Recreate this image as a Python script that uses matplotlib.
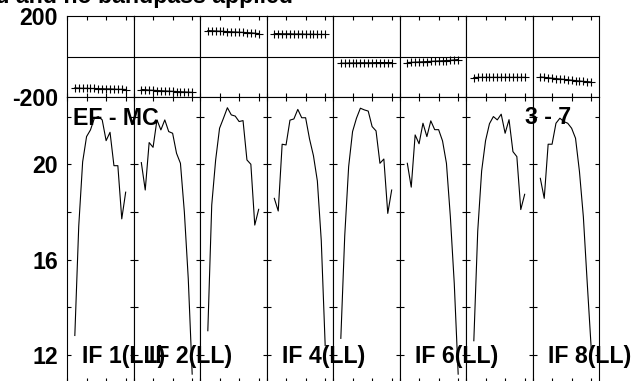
from matplotlib import pyplot as plt
import numpy as np

plt.rcParams['font.family'] = ['Liberation Sans', 'DejaVu Sans']
plt.rcParams['font.weight'] = 'bold'

# channels in every IF
chans = np.arange(2, 16)

# phase (degrees) per IF
phase = [
    [-155, -156, -157, -157, -158, -158, -159, -159, -160, -160, -161, -162, -162, -163],
    [-163, -164, -166, -167, -168, -169, -170, -171, -172, -173, -174, -175, -176, -177],
    [128, 127, 126, 125, 124, 123, 122, 121, 120, 119, 118, 117, 115, 113],
    [113, 113, 112, 112, 112, 111, 111, 111, 110, 110, 110, 109, 109, 109],
    [-33, -33, -32, -32, -32, -31, -31, -31, -31, -30, -30, -30, -30, -30],
    [-30, -29, -28, -27, -26, -25, -24, -23, -22, -21, -20, -19, -17, -15],
    [-104, -103, -103, -103, -103, -103, -103, -103, -103, -103, -103, -103, -103, -103],
    [-101, -103, -105, -107, -109, -111, -113, -115, -117, -119, -121, -123, -124, -126],
]

# amplitude per IF
amp = [
    [12.82, 17.4, 20.1, 21.16, 21.44, 21.93, 22.0, 21.86, 20.99, 21.34, 19.94, 19.94, 17.71, 18.83],
    [20.07, 18.92, 20.91, 20.71, 21.86, 21.44, 21.86, 21.37, 21.3, 20.46, 20.04, 18.0, 15.2, 11.2],
    [13.02, 18.29, 20.18, 21.51, 21.93, 22.37, 22.07, 22.02, 21.79, 21.83, 20.18, 20.0, 17.45, 18.11],
    [18.57, 18.04, 20.84, 20.81, 21.85, 21.9, 22.3, 21.95, 21.95, 21.06, 20.36, 19.3, 16.8, 12.4],
    [12.7, 17.0, 19.9, 21.37, 21.93, 22.35, 22.28, 22.23, 21.58, 21.4, 20.04, 20.22, 17.94, 18.92],
    [20.04, 19.04, 21.23, 20.86, 21.72, 21.16, 21.82, 21.45, 21.45, 20.98, 20.04, 17.8, 15.0, 11.2],
    [12.6, 17.2, 19.72, 20.99, 21.7, 22.0, 21.86, 22.1, 21.3, 21.87, 20.53, 20.32, 18.1, 18.74],
    [19.41, 18.57, 20.84, 20.84, 21.72, 21.93, 21.79, 21.72, 21.51, 21.09, 19.7, 17.8, 15.0, 12.3],
]

if_labels = ['IF 1(LL)', 'IF 2(LL)', '', 'IF 4(LL)', '', 'IF 6(LL)', '', 'IF 8(LL)']
amp_ticks = [12, 14, 16, 18, 20, 22]
amp_ticklabels = ['12', '', '16', '', '20', '']

W, H = 636, 381
fs = 16.7

def box(x0, y0, x1, y1):
    return [x0 / W, 1 - y1 / H, (x1 - x0) / W, (y1 - y0) / H]

fig = plt.figure(figsize=(W / 100, H / 100), dpi=100)

x_left, pw = 67, 66.5
for i in range(8):
    xa = x_left + i * pw
    axp = fig.add_axes(box(xa, 16, xa + pw, 97))
    axa = fig.add_axes(box(xa, 97, xa + pw, 382))

    axp.plot(chans, phase[i], color='black', linewidth=0.8,
             marker='+', markersize=6, markeredgewidth=0.8)
    axp.axhline(0, color='black', linewidth=0.8)
    axp.set_ylim(-200, 200)

    axa.plot(chans, amp[i], color='black', linewidth=0.8)
    axa.set_ylim(10.87, 22.82)

    for ax in (axp, axa):
        ax.set_xlim(0, 17)
        ax.set_xticks([0, 5, 10, 15])
        ax.set_xticklabels([])
        for s in ax.spines.values():
            s.set_linewidth(0.8)
        ax.tick_params(direction='in', length=3, width=0.8,
                       top=True, bottom=True, left=True, right=True,
                       labelbottom=False, labelsize=fs, pad=6.5)

    axp.set_yticks([-200, 200])
    axp.tick_params(axis='y', length=0)
    axa.set_yticks(amp_ticks)
    if i == 0:
        axp.set_yticklabels(['-200', '200'], fontweight='bold')
        axa.set_yticklabels(amp_ticklabels, fontweight='bold')
    else:
        axp.set_yticklabels([])
        axa.set_yticklabels([])

    # IF name, drawn on the figure so the next panel does not hide it
    if if_labels[i]:
        fig.text((xa + 15.5) / W, 1 - 363 / H, if_labels[i],
                 fontsize=fs, fontweight='bold', ha='left', va='baseline',
                 zorder=5)

fig.text(73 / W, 1 - 125 / H, 'EF - MC', fontsize=fs, fontweight='bold',
         ha='left', va='baseline', zorder=5)
fig.text(571 / W, 1 - 124 / H, '3 - 7', fontsize=fs, fontweight='bold',
         ha='right', va='baseline', zorder=5)
fig.text(293 / W, 1 - 2.5 / H, 'Calibration applied and no bandpass applied',
         fontsize=fs, fontweight='bold', ha='right', va='baseline')

fig.savefig('out.png', dpi=100)
